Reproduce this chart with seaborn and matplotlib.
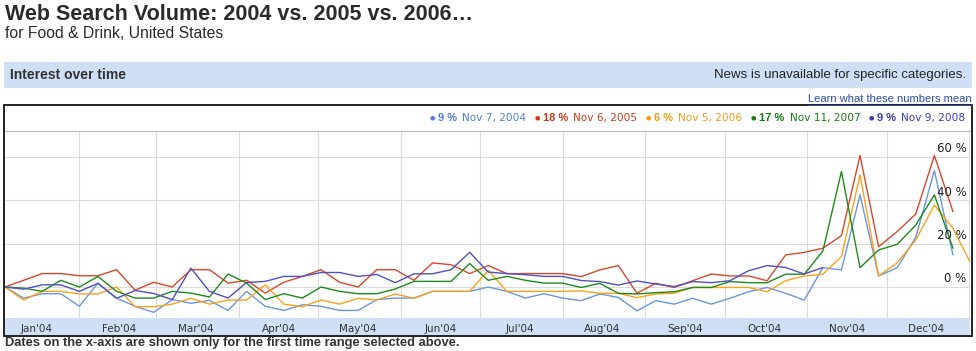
import numpy as np
import pandas as pd
import matplotlib
matplotlib.use('Agg')
import matplotlib.pyplot as plt
import matplotlib.dates as mdates
from matplotlib.patches import Rectangle
from matplotlib.lines import Line2D
import seaborn as sns

# weekly values, % change relative to first week
blue_2004 = [0, -5.1, -3.1, -3.1, -8.9, 1.8, -5.1, -8.9, -11.7, -5.8, -7.5,
             -6.2, -10.8, -2, -8.9, -10.8, -8.2, -8.9, -10.8, -10.8, -5.8, -5.1,
             -5.1, -2, -2, -2, 0, -2, -5.1, -3.1, -5.1,
             -6.3,
             -3.2, -4.8, -11.0, -6.3, -7.9, -5.2, -7.9, -5.2, -2.2, -0.2,
             -2.9, -6.0, 8.9, 7.9, 42.5, 5.1, 8.9, 23.0, 53.7, 14.8]
red_2005 = [0, 3.1, 6.2, 6.2, 5.2, 5.2, 8.0, -1.5, 2.2, 0, 8.0,
            8.0, 1.8, 3.1, -2.8, 2.2, 4.9, 8.0, 2.2, 0, 8.0, 8.0,
            3.1, 11.1, 10.3, 6.2, 9.9, 6.2, 6.2, 6.2, 6.2,
            4.8,
            7.9, 9.9, -2.9, 1.7, -0.2, 2.9, 6.0, 5.1, 5.1, 2.9,
            14.8, 16.0, 17.9, 23.7, 60.7, 18.6, 25.6, 33.7, 60.7, 34.8]
orange_2006 = [0, -6, -2, -2, -3.2, -3.2, 0, -9.1, -9.1, -7.9, -5.2,
               -7.9, -6.0, -6.0, 1.0, -7.9, -9.1, -6.0, -7.9, -5.2, -6.0, -3.2, -5.2,
               -2, -2, -2, 7.7, -2, -2, -2, -2,
               -1.8,
               -2.9, -2.9, -4.9, -3.2, -2.9, -0.2, -0.2, -0.2, -0.2, -2.2,
               2.9, 5.1, 5.9, 14.0, 51.7, 5.1, 11.2, 21.7, 37.9, 27.1, 10.2]
green_2007 = [0, -0.5, -2, 3.1, 0, 4.9, -2, -5.1, -5.1, -2, -2.8,
              -4.6, 6.0, 1.8, -5.8, -3.1, -5.1, 0, -2, -3.1, -3.1, -0.9,
              2.6, 2.6, 2.6, 10.8, 3.1, 4.9, 3.1, 1.8, 1.8,
              -0.2,
              1.7, -2.9, -3.2, -2.6, -2.2, -0.2, -0.2, 2.5, 2.0, 2.0,
              5.9, 5.9, 16.6, 53.3, 8.9, 17.1, 19.7, 28.6, 42.5, 17.9]
purple_2008 = [0, -1, 1, 1, -2, 1.7, -5.2, -1.6, -3, -5.8, 8.7,
               -2, -5.1, 2.1, 2.6, 4.9, 4.9, 6.7, 6.7, 4.9, 5.8, 2.0,
               6.1, 6.1, 8.0, 16.0, 6.9, 6.2, 5.7, 4.9, 4.9,
               3.0,
               2.5, 0.9, 2.8, 1.4, 0.2, 2.5, 2.0, 2.9, 7.5, 9.9,
               9.0, 6.0, 9.0]

series_names = ['2004', '2005', '2006', '2007', '2008']
series_values = [blue_2004, red_2005, orange_2006, green_2007, purple_2008]
colors = ['#6b96e0', '#d9472b', '#f9a21b', '#1e8a1e', '#5151c6']
text_colors = ['#4f7fd6', '#cc3a1a', '#f59a12', '#157a15', '#3b3bb5']

legend_pct = ['9 %', '18 %', '6 %', '17 %', '9 %']
legend_dates = ['Nov 7, 2004', 'Nov 6, 2005', 'Nov 5, 2006', 'Nov 11, 2007', 'Nov 9, 2008']
y_ticks = [0, 20, 40, 60]

weeks = pd.date_range('2004-01-04', periods=53, freq='7D')
frames = []
for name, vals in zip(series_names, series_values):
    frames.append(pd.DataFrame({'date': weeks[:len(vals)], 'value': vals, 'year': name}))
df = pd.concat(frames, ignore_index=True)

W, H = 976, 351
sns.set_style('white')
plt.rcParams['font.family'] = ['Liberation Sans', 'DejaVu Sans']
fig = plt.figure(figsize=(W / 100, H / 100), dpi=100)

def fx(x):
    return x / W

def fy(y):
    return 1 - y / H

# header
fig.text(fx(5), fy(15), 'Web Search Volume: 2004 vs. 2005 vs. 2006…', fontsize=15.5,
         fontweight='bold', color='#2b2b2b', va='center', ha='left')
fig.text(fx(5), fy(33), 'for Food & Drink, United States', fontsize=11.3,
         color='#2b2b2b', va='center', ha='left')
fig.patches.append(Rectangle((fx(4), fy(88)), fx(968), 26 / H, transform=fig.transFigure,
                             facecolor='#cfe0f6', edgecolor='none'))
fig.text(fx(10), fy(75), 'Interest over time', fontsize=10, fontweight='bold',
         color='#333333', va='center', ha='left')
fig.text(fx(966), fy(75), 'News is unavailable for specific categories.', fontsize=9.5,
         color='#222222', va='center', ha='right')
learn = fig.text(fx(972), fy(99), 'Learn what these numbers mean', fontsize=8,
                 color='#2d48b8', va='center', ha='right')

# chart frame
fig.patches.append(Rectangle((fx(4), fy(336)), fx(968), 231 / H, transform=fig.transFigure,
                             facecolor='none', edgecolor='#111111', lw=1.3))

# legend row, pieces chained left to right
fig.canvas.draw()
x_cur = 430
for i in range(5):
    fig.text(fx(x_cur + 2), fy(118), '●', fontsize=4.5, color=text_colors[i], va='center',
             ha='center', family='DejaVu Sans')
    t1 = fig.text(fx(x_cur + 8), fy(118), legend_pct[i], fontsize=8, fontweight='bold',
                  color=text_colors[i], va='center', ha='left')
    bb = t1.get_window_extent(renderer=fig.canvas.get_renderer())
    t2 = fig.text(fx(bb.x1 + 5), fy(118), legend_dates[i], fontsize=7.6, color=text_colors[i],
                  va='center', ha='left', family='DejaVu Sans')
    bb2 = t2.get_window_extent(renderer=fig.canvas.get_renderer())
    x_cur = bb2.x1 + 9

# plot area
ax = fig.add_axes([fx(5), fy(318), 965 / W, 187 / H])
sns.lineplot(data=df, x='date', y='value', hue='year', palette=colors, linewidth=1.0,
             legend=False, ax=ax)

ax.set_xlim(mdates.date2num(pd.Timestamp('2004-01-04')),
            mdates.date2num(pd.Timestamp('2005-01-01 10:00')))
ax.set_ylim(-14.3, 72)
ax.set_xlabel('')
ax.set_ylabel('')

ax.xaxis.set_major_locator(mdates.MonthLocator())
ax.xaxis.set_major_formatter(plt.NullFormatter())
ax.xaxis.set_minor_locator(mdates.MonthLocator(bymonthday=16))
ax.xaxis.set_minor_formatter(mdates.DateFormatter("%b'%y"))
ax.tick_params(axis='x', which='major', direction='in', length=4, width=1, color='#111111')
ax.tick_params(axis='x', which='minor', length=0, pad=4, labelsize=7.5, labelcolor='#333333')
for lab in ax.get_xticklabels(minor=True):
    lab.set_family('DejaVu Sans')

ax.set_yticks(y_ticks)
ax.set_yticklabels([])
ax.tick_params(axis='y', length=0)
ax.grid(True, which='major', color='#dcdcdc', linewidth=0.8)
ax.set_axisbelow(True)

for v in y_ticks:
    ax.text(0.9965, v + 3.8, f'{v} %', transform=ax.get_yaxis_transform(), ha='right',
            va='center', fontsize=8.5, color='#222222', family='DejaVu Sans')

for side in ['left', 'right', 'bottom']:
    ax.spines[side].set_visible(False)
ax.spines['top'].set_color('#bbbbbb')

# date band under the plot
ax.add_patch(Rectangle((0, -17 / 187), 1, 17 / 187, transform=ax.transAxes,
                       facecolor='#cfe0f6', edgecolor='none', clip_on=False, zorder=-1))

fig.text(fx(5), fy(343), 'Dates on the x-axis are shown only for the first time range selected above.',
         fontsize=9.3, fontweight='bold', color='#333333', va='center', ha='left')

# underline the link
fig.canvas.draw()
bb = learn.get_window_extent()
fig.lines.append(Line2D([bb.x0 / W, bb.x1 / W], [(bb.y0 - 0.5) / H] * 2,
                        transform=fig.transFigure, color='#2d48b8', lw=0.7))

fig.savefig('out.png', dpi=100)
